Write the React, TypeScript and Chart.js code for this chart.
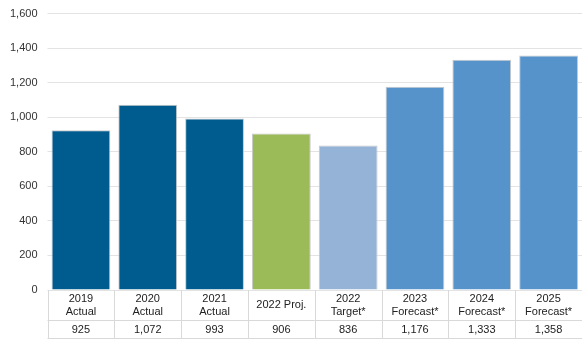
import React, { useEffect, useRef } from "react";
import { Chart, registerables } from "chart.js";

Chart.register(...registerables);

const categories: string[][] = [
  ["2019", "Actual"],
  ["2020", "Actual"],
  ["2021", "Actual"],
  ["2022 Proj."],
  ["2022", "Target*"],
  ["2023", "Forecast*"],
  ["2024", "Forecast*"],
  ["2025", "Forecast*"],
];
const values: number[] = [925, 1072, 993, 906, 836, 1176, 1333, 1358];
const valueLabels: string[] = ["925", "1,072", "993", "906", "836", "1,176", "1,333", "1,358"];
const barColors: string[] = [
  "#005b8f",
  "#005b8f",
  "#005b8f",
  "#9bbb59",
  "#95b3d7",
  "#5793cb",
  "#5793cb",
  "#5793cb",
];
const yTicks: number[] = [0, 200, 400, 600, 800, 1000, 1200, 1400, 1600];

const FONT = "'Liberation Sans', Arial, sans-serif";

const tablePlugin = {
  id: "tablePlugin",
  afterDraw(chart: any) {
    const ctx = chart.ctx;
    const x = chart.scales.x;
    const area = chart.chartArea;
    const top = area.bottom;
    const mid = top + 30;
    const bottom = chart.height;
    const n = categories.length;
    const step = (area.right - area.left) / n;
    ctx.save();
    ctx.strokeStyle = "#d9d9d9";
    ctx.lineWidth = 1;
    ctx.beginPath();
    for (let i = 0; i <= n; i++) {
      const px = Math.round(x.getPixelForValue(i) - step / 2) + 0.5;
      ctx.moveTo(px, top);
      ctx.lineTo(px, bottom);
    }
    ctx.moveTo(area.left, mid + 0.5);
    ctx.lineTo(area.right, mid + 0.5);
    ctx.moveTo(area.left, bottom - 0.5);
    ctx.lineTo(area.right, bottom - 0.5);
    ctx.stroke();

    ctx.fillStyle = "#222222";
    ctx.font = `11px ${FONT}`;
    ctx.textAlign = "center";
    ctx.textBaseline = "middle";
    for (let i = 0; i < n; i++) {
      const cx = x.getPixelForValue(i);
      const lines = categories[i];
      if (lines.length === 1) {
        ctx.fillText(lines[0], cx, top + 15);
      } else {
        ctx.fillText(lines[0], cx, top + 9);
        ctx.fillText(lines[1], cx, top + 22);
      }
      ctx.fillText(valueLabels[i], cx, mid + 10);
    }
    ctx.restore();
  },
};

export default function App() {
  const ref = useRef<HTMLCanvasElement | null>(null);
  useEffect(() => {
    document.body.style.margin = "0";
    const chart = new Chart(ref.current as HTMLCanvasElement, {
      type: "bar",
      data: {
        labels: categories.map((c) => c.join(" ")),
        datasets: [
          {
            data: values,
            backgroundColor: barColors,
            borderColor: "#c8c8c8",
            borderWidth: 1,
            barPercentage: 0.88,
            categoryPercentage: 1,
          },
        ],
      },
      options: {
        animation: false,
        responsive: false,
        layout: { padding: { top: 1, left: 0, right: 0, bottom: 49 } },
        plugins: { legend: { display: false }, tooltip: { enabled: false } },
        scales: {
          x: { display: false, offset: true },
          y: {
            min: 0,
            max: 1600,
            afterBuildTicks: (axis: any) => {
              axis.ticks = yTicks.map((v) => ({ value: v }));
            },
            border: { display: false },
            grid: { color: "#e3e3e3", tickLength: 0 },
            ticks: {
              padding: 10,
              color: "#333333",
              font: { family: FONT, size: 11 },
              callback: (v: any) => Number(v).toLocaleString("en-US"),
            },
          },
        },
      },
      plugins: [tablePlugin],
    });
    return () => chart.destroy();
  }, []);
  return (
    <div style={{ width: 582, height: 339, overflow: "hidden" }}>
      <canvas
        ref={ref}
        width={582}
        height={342}
        style={{ display: "block", marginTop: -3 }}
      />
    </div>
  );
}
